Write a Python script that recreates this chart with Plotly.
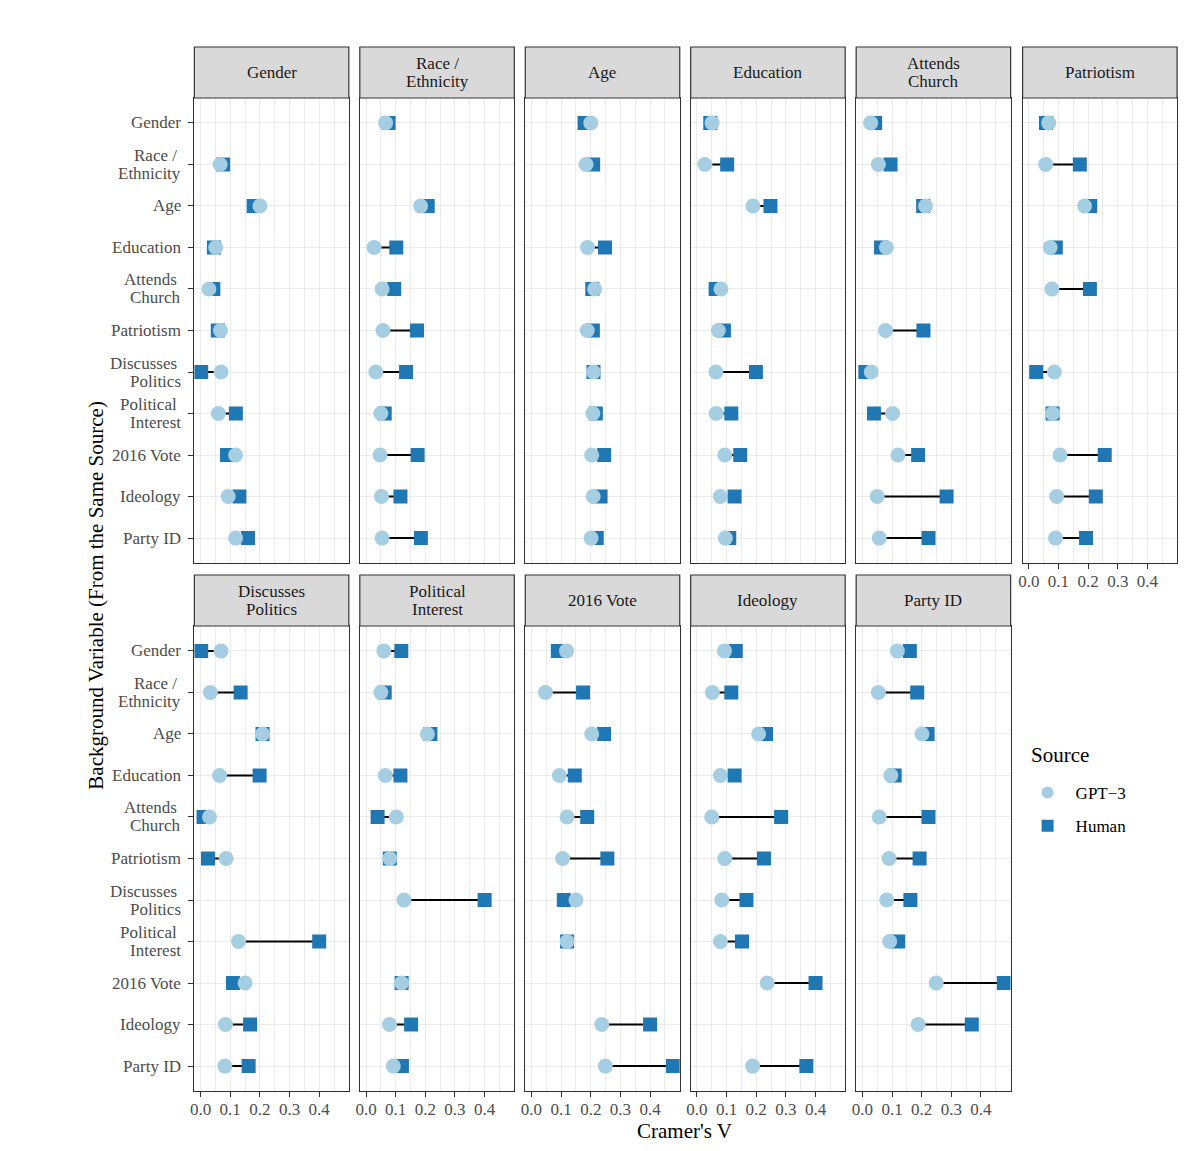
import plotly.graph_objects as go

# ---------------- data ----------------
row_labels = ["Gender", "Race /<br>Ethnicity", "Age", "Education", "Attends<br>Church",
              "Patriotism", "Discusses<br>Politics", "Political<br>Interest", "2016 Vote",
              "Ideology", "Party ID"]
panel_titles = ["Gender", "Race /<br>Ethnicity", "Age", "Education", "Attends<br>Church",
                "Patriotism", "Discusses<br>Politics", "Political<br>Interest", "2016 Vote",
                "Ideology", "Party ID"]
x_ticks = [0.0, 0.1, 0.2, 0.3, 0.4]

# rows: Gender, Race, Age, Education, Attends, Patriotism, Discusses, PolInterest, 2016 Vote, Ideology, Party ID
gpt3_gender = [None, 0.066, 0.200, 0.051, 0.028, 0.067, 0.069, 0.060, 0.118, 0.093, 0.118]
human_gender = [None, 0.076, 0.179, 0.045, 0.043, 0.058, 0.002, 0.119, 0.089, 0.131, 0.160]
gpt3_race = [0.066, None, 0.184, 0.027, 0.054, 0.057, 0.033, 0.050, 0.047, 0.052, 0.054]
human_race = [0.076, None, 0.208, 0.102, 0.095, 0.172, 0.135, 0.063, 0.174, 0.116, 0.185]
gpt3_age = [0.200, 0.184, None, 0.189, 0.213, 0.188, 0.209, 0.207, 0.203, 0.208, 0.201]
human_age = [0.179, 0.208, None, 0.248, 0.205, 0.207, 0.209, 0.217, 0.245, 0.233, 0.220]
gpt3_education = [0.051, 0.027, 0.189, None, 0.081, 0.072, 0.064, 0.065, 0.094, 0.079, 0.096]
human_education = [0.045, 0.102, 0.248, None, 0.063, 0.091, 0.199, 0.116, 0.146, 0.127, 0.109]
gpt3_church = [0.028, 0.054, 0.213, 0.081, None, 0.078, 0.030, 0.102, 0.120, 0.050, 0.057]
human_church = [0.043, 0.095, 0.205, 0.063, None, 0.206, 0.010, 0.039, 0.188, 0.284, 0.223]
gpt3_patriotism = [0.067, 0.057, 0.188, 0.072, 0.078, None, 0.086, 0.080, 0.105, 0.094, 0.090]
human_patriotism = [0.058, 0.172, 0.207, 0.091, 0.206, None, 0.025, 0.080, 0.256, 0.226, 0.193]
gpt3_discusses = [0.069, 0.033, 0.209, 0.064, 0.030, 0.086, None, 0.128, 0.150, 0.084, 0.082]
human_discusses = [0.002, 0.135, 0.209, 0.199, 0.010, 0.025, None, 0.400, 0.109, 0.167, 0.162]
gpt3_interest = [0.060, 0.050, 0.207, 0.065, 0.102, 0.080, 0.128, None, 0.120, 0.079, 0.092]
human_interest = [0.119, 0.063, 0.217, 0.116, 0.039, 0.080, 0.400, None, 0.120, 0.152, 0.121]
gpt3_vote = [0.118, 0.047, 0.203, 0.094, 0.120, 0.105, 0.150, 0.120, None, 0.237, 0.249]
human_vote = [0.089, 0.174, 0.245, 0.146, 0.188, 0.256, 0.109, 0.120, None, 0.400, 0.477]
gpt3_ideology = [0.093, 0.052, 0.208, 0.079, 0.050, 0.094, 0.084, 0.079, 0.237, None, 0.188]
human_ideology = [0.131, 0.116, 0.233, 0.127, 0.284, 0.226, 0.167, 0.152, 0.400, None, 0.369]
gpt3_partyid = [0.118, 0.054, 0.201, 0.096, 0.057, 0.090, 0.082, 0.092, 0.249, 0.188, None]
human_partyid = [0.160, 0.185, 0.220, 0.109, 0.223, 0.193, 0.162, 0.121, 0.477, 0.369, None]

gpt3_panels = [gpt3_gender, gpt3_race, gpt3_age, gpt3_education, gpt3_church, gpt3_patriotism,
               gpt3_discusses, gpt3_interest, gpt3_vote, gpt3_ideology, gpt3_partyid]
human_panels = [human_gender, human_race, human_age, human_education, human_church, human_patriotism,
                human_discusses, human_interest, human_vote, human_ideology, human_partyid]

# ---------------- styling / layout ----------------
W, H = 1200, 1151
FONT = "Liberation Serif"
GPT_COLOR = "#A6CEE3"
HUMAN_COLOR = "#1F78B4"
TICK_COLOR = "#4D4D4D"
col_px = [(191, 346), (357, 512), (523, 678), (689, 844), (855, 1010), (1022, 1177)]
row_px = [dict(strip=(47, 98), plot=(98, 563)), dict(strip=(575, 626), plot=(626, 1091))]

panel_pos = [(0, c) for c in range(6)] + [(1, c) for c in range(5)]

fig = go.Figure()
layout = dict(
    width=W, height=H,
    margin=dict(l=0, r=0, t=0, b=0),
    paper_bgcolor="white", plot_bgcolor="white",
    font=dict(family=FONT, color=TICK_COLOR),
    showlegend=True,
    shapes=[], annotations=[],
)

rows_idx = list(range(len(row_labels)))

for k in range(11):
    r, c = panel_pos[k]
    xs = "x" if k == 0 else f"x{k+1}"
    ys = "y" if k == 0 else f"y{k+1}"
    xa = "xaxis" if k == 0 else f"xaxis{k+1}"
    ya = "yaxis" if k == 0 else f"yaxis{k+1}"
    x0, x1 = col_px[c]
    py0, py1 = row_px[r]["plot"]
    sy0, sy1 = row_px[r]["strip"]

    g = gpt3_panels[k]
    h = human_panels[k]

    # connecting segments
    lx, ly = [], []
    for i in rows_idx:
        if g[i] is None or h[i] is None:
            continue
        lx += [g[i], h[i], None]
        ly += [i, i, None]
    fig.add_trace(go.Scatter(x=lx, y=ly, mode="lines", line=dict(color="black", width=2),
                             xaxis=xs, yaxis=ys, showlegend=False, hoverinfo="skip"))
    fig.add_trace(go.Scatter(x=h, y=rows_idx, mode="markers", name="Human",
                             marker=dict(symbol="square", size=14, color=HUMAN_COLOR, line=dict(width=0)),
                             xaxis=xs, yaxis=ys, showlegend=(k == 0), legendrank=2,
                             legendgroup="human"))
    fig.add_trace(go.Scatter(x=g, y=rows_idx, mode="markers", name="GPT\u22123",
                             marker=dict(symbol="circle", size=15, color=GPT_COLOR, line=dict(width=0)),
                             xaxis=xs, yaxis=ys, showlegend=(k == 0), legendrank=1,
                             legendgroup="gpt"))

    show_x = (r == 1) or (k == 5)
    show_y = (c == 0)
    layout[xa] = dict(
        domain=[x0 / W, x1 / W], anchor=ys, range=[-0.021, 0.5],
        tickvals=x_ticks, tickformat=".1f",
        showticklabels=show_x, ticks="outside" if show_x else "", ticklen=5,
        tickcolor="#333333", tickwidth=1.1, ticklabelstandoff=-3,
        tickfont=dict(family=FONT, size=17, color=TICK_COLOR),
        showgrid=True, gridcolor="#EBEBEB", gridwidth=1.1,
        minor=dict(dtick=0.05, tick0=0, showgrid=True, gridcolor="#EBEBEB", gridwidth=0.6),
        zeroline=False, showline=True, mirror=True, linecolor="#333333", linewidth=1.2,
        fixedrange=True,
    )
    layout[ya] = dict(
        domain=[1 - py1 / H, 1 - py0 / H], anchor=xs, range=[10.6, -0.6],
        tickvals=rows_idx, showticklabels=False,
        ticks="outside" if show_y else "", ticklen=5,
        tickcolor="#333333", tickwidth=1.1,
        showgrid=True, gridcolor="#EBEBEB", gridwidth=1.1,
        zeroline=False, showline=True, mirror=True, linecolor="#333333", linewidth=1.2,
        fixedrange=True,
    )
    # y tick labels (as text lines with tight line spacing, right-aligned)
    if show_y:
        for i, lab in enumerate(row_labels):
            lines = lab.split("<br>")
            n = len(lines)
            for j, line in enumerate(lines):
                txt = line + ("\u00a0" if (n > 1 and j < n - 1) else "")
                layout["annotations"].append(dict(
                    text=txt, xref="paper", yref=ys, x=(x0 - 11) / W, y=i,
                    xanchor="right", yanchor="middle", showarrow=False,
                    yshift=(9 if j == 0 else -9) if n > 1 else 0,
                    font=dict(family=FONT, size=17, color=TICK_COLOR)))
    # strip
    layout["shapes"].append(dict(type="rect", xref="paper", yref="paper",
                                 x0=x0 / W, x1=x1 / W, y0=1 - sy1 / H, y1=1 - sy0 / H,
                                 fillcolor="#D9D9D9", line=dict(color="#333333", width=1.2),
                                 layer="above"))
    t_lines = panel_titles[k].split("<br>")
    for j, line in enumerate(t_lines):
        off = 0 if len(t_lines) == 1 else (9 if j == 0 else -9)
        layout["annotations"].append(dict(text=line, xref="paper", yref="paper",
                                          x=(x0 + x1) / 2 / W, y=1 - (sy0 + sy1) / 2 / H,
                                          yshift=off, xanchor="center", yanchor="middle",
                                          showarrow=False,
                                          font=dict(family=FONT, size=17, color="#1A1A1A")))

# axis titles
layout["annotations"].append(dict(text="Cramer's V", xref="paper", yref="paper",
                                  x=683 / W, y=1 - 1131 / H, xanchor="center", yanchor="middle",
                                  showarrow=False, font=dict(family=FONT, size=21, color="black")))
layout["annotations"].append(dict(text="Background Variable (From the Same Source)", xref="paper",
                                  yref="paper", x=92 / W, y=1 - 595 / H, xanchor="center",
                                  yanchor="middle", textangle=-90, showarrow=False,
                                  font=dict(family=FONT, size=21, color="black")))
# legend title
layout["annotations"].append(dict(text="Source", xref="paper", yref="paper",
                                  x=1028 / W, y=1 - 755 / H, xanchor="left", yanchor="middle",
                                  showarrow=False, font=dict(family=FONT, size=21, color="black")))

layout["legend"] = dict(
    x=1019 / W, y=1 - 775 / H, xanchor="left", yanchor="top",
    font=dict(family=FONT, size=17, color="black"),
    bgcolor="rgba(0,0,0,0)", tracegroupgap=8, itemsizing="constant", itemwidth=46,
)

fig.update_layout(**layout)
fig.write_html("out.html")
